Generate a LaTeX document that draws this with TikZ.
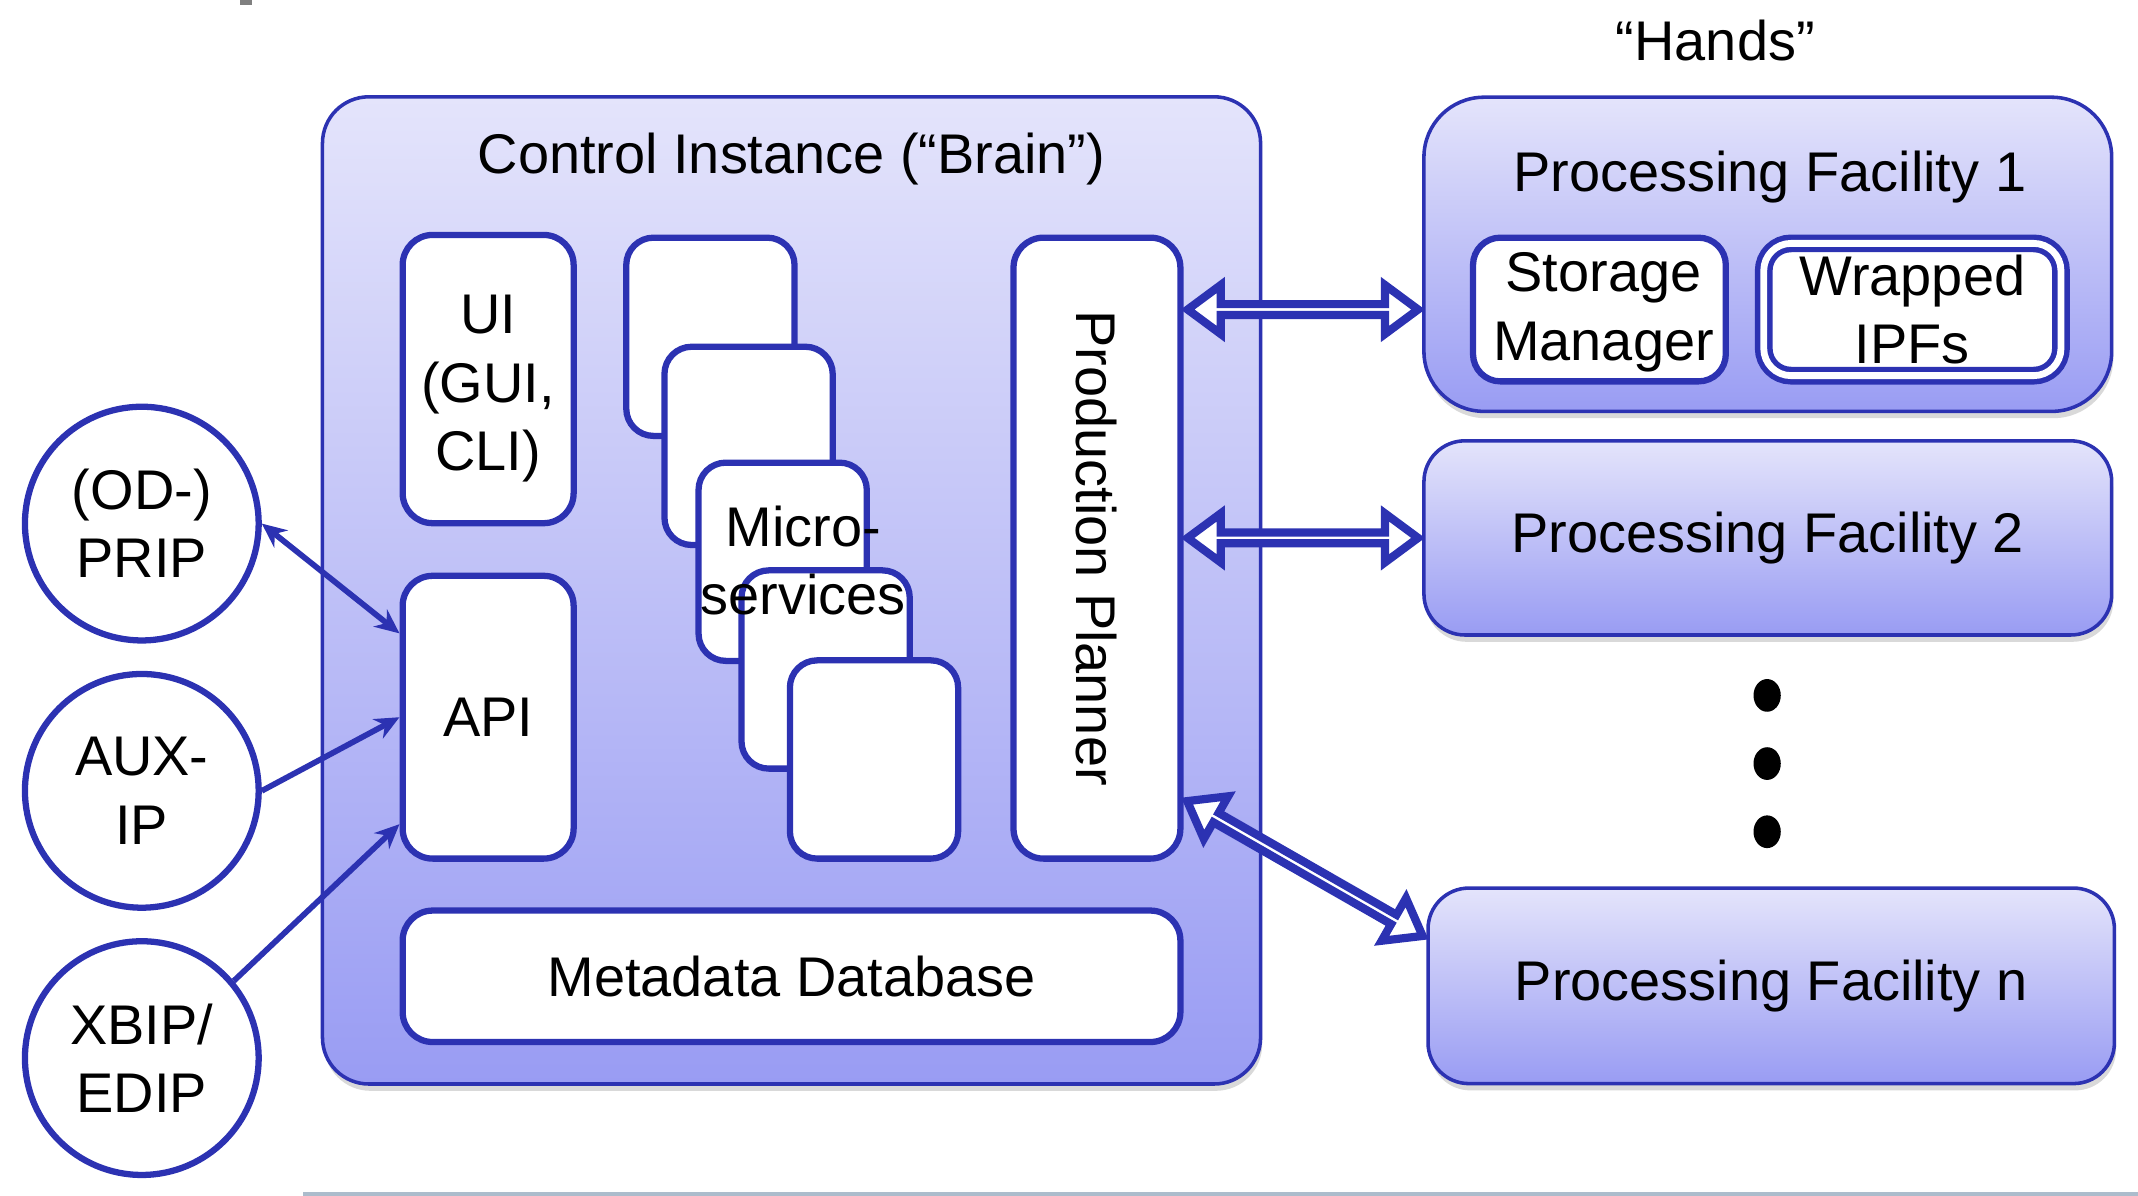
\documentclass[tikz,border=0pt]{standalone}
\usepackage{fontspec}
\setmainfont{Liberation Sans}
\usetikzlibrary{calc,arrows.meta,shapes.arrows,shadows}

\definecolor{rimblue}{RGB}{44,50,178}
\definecolor{shadetop}{RGB}{228,228,251}
\definecolor{shadebot}{RGB}{153,156,243}
\definecolor{stripgrey}{RGB}{172,188,204}

\tikzset{
  every node/.style={font=\fontsize{20.5}{25}\selectfont, align=center},
  shellbox/.style={rounded corners=15pt, draw=rimblue, line width=1.3pt,
    top color=shadetop, bottom color=shadebot,
    drop shadow={shadow xshift=0.6pt, shadow yshift=-2.5pt, opacity=0.25, fill=black!60}},
  unitbox/.style={rounded corners=11pt, draw=rimblue, line width=2.3pt, fill=white, inner sep=0pt},
  ipfbox/.style={rounded corners=10pt, draw=rimblue, line width=2pt, double=white, double distance=2.5pt, inner sep=0pt},
  sourcenode/.style={circle, draw=rimblue, line width=2.3pt, fill=white, minimum size=85.7pt, inner sep=0pt},
  feedline/.style={draw=rimblue, line width=2.1pt, -{Stealth[length=9pt,width=8pt]}},
  hollowarrow/.style={double arrow, draw=rimblue, fill=white, line width=3pt, minimum width=18pt,
    double arrow head extend=5.3pt, double arrow tip angle=73, inner sep=0pt},
}

\begin{document}
\begin{tikzpicture}[x=0.5pt, y=-0.5pt]
  \useasboundingbox (0,0) rectangle (1568,877);
  \fill[gray] (176,0) rectangle (185,4);
  \fill[stripgrey] (222,874) rectangle (1568,877);

  % the brain
  \node[shellbox, rounded corners=17pt, minimum width=344pt, minimum height=362pt] (brain) at (580.5,433) {};
  \node (braintitle) at (580.5,117) {Control Instance (“Brain”)};
  \node[unitbox, minimum width=62.7pt, minimum height=105.7pt] (ui) at (358,278) {};
  \node (uitext) at ($(ui.center)+(0,7)$) {UI\\(GUI,\\CLI)};
  \node[unitbox, minimum width=62.7pt, minimum height=103.7pt] (api) at (358,526) {API};
  \foreach \mx/\my [count=\k] in {521/247, 549/327, 574/412, 605.5/491, 641/557}
    \node[unitbox, rounded corners=10pt, minimum width=61.7pt, minimum height=72.7pt] (ms\k) at (\mx,\my) {};
  \node (msname) at (589,411) {Micro-\\services};
  \node[unitbox, minimum width=61.2pt, minimum height=227.7pt] (planner) at (804.5,402) {};
  \node[rotate=-90] (plannertext) at (planner.center) {Production Planner};
  \node[unitbox, minimum width=285.2pt, minimum height=48.2pt] (mdb) at (580.5,716) {Metadata Database};

  % the hands
  \node (hands) at (1258,30) {“Hands”};
  \node[shellbox, rounded corners=22pt, minimum width=252.2pt, minimum height=115.2pt] (pf1) at (1296.5,186.5) {};
  \node (pf1title) at (1298,130) {Processing Facility 1};
  \node[unitbox, rounded corners=10pt, minimum width=92.7pt, minimum height=52.7pt] (sm) at (1173,227) {};
  \node (smtext) at ($(sm.center)+(3,2)$) {Storage\\Manager};
  \node[ipfbox, fill=white, minimum width=109pt, minimum height=48.5pt] (ipf) at (1402.5,227) {Wrapped\\IPFs};
  \node[shellbox, minimum width=252.2pt, minimum height=71.2pt] (pf2) at (1296.5,394.5) {Processing Facility 2};
  \node[shellbox, minimum width=251.7pt, minimum height=71.7pt] (pfn) at (1299,723) {Processing Facility n};
  \foreach \dy in {510,560,610}
    \fill (1296,\dy) ellipse [x radius=5pt, y radius=6pt];

  % input sources
  \node[sourcenode] (prip) at (104,384) {(OD-)\\PRIP};
  \node[sourcenode] (auxip) at (104,580) {AUX-\\IP};
  \node[sourcenode] (xbip) at (104,776) {XBIP/\\EDIP};
  \draw[feedline, {Stealth[length=9pt,width=8pt]}-{Stealth[length=9pt,width=8pt]}] (prip.east) -- ($(api.north west)!0.21!(api.south west)$);
  \draw[feedline] (auxip.east) -- (api.west);
  \draw[feedline] (xbip.40) -- ($(api.north west)!0.87!(api.south west)$);

  % planner <-> facilities
  \coordinate (pa1) at (planner.east |- sm);
  \coordinate (pb1) at (pf1.west |- sm);
  \coordinate (pa2) at (planner.east |- pf2);
  \coordinate (pb2) at (pf2.west);
  \coordinate (pa3) at ($(planner.north east)!0.9!(planner.south east)$);
  \coordinate (pb3) at ($(pfn.north west)!0.26!(pfn.south west)$);
  \foreach \k in {1,2,3}
    \path let \p1=($(pb\k)-(pa\k)$), \n1={veclen(\x1,\y1)} in
      (pa\k) -- node[hollowarrow, sloped, minimum height=\n1-3pt] (link\k) {} (pb\k);
\end{tikzpicture}
\end{document}
